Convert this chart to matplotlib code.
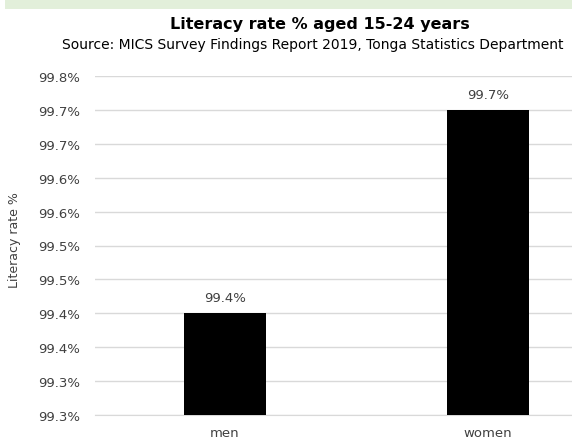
import matplotlib.pyplot as plt
from matplotlib.patches import Rectangle

groups = ['men', 'women']
literacy = [99.4, 99.7]
value_labels = ['99.4%', '99.7%']

ytick_vals = [99.25, 99.30, 99.35, 99.40, 99.45, 99.50, 99.55, 99.60, 99.65, 99.70, 99.75]
ytick_labels = ['99.3%', '99.3%', '99.4%', '99.4%', '99.5%', '99.5%',
                '99.6%', '99.6%', '99.7%', '99.7%', '99.8%']

plt.rcParams['font.family'] = ['DejaVu Sans']

W, H = 572, 439
fig = plt.figure(figsize=(W / 100, H / 100), dpi=100)

# light green header strip along the top edge
fig.patches.append(Rectangle((5 / W, 1 - 10 / H), 1, 10 / H, transform=fig.transFigure,
                             facecolor='#e2efda', edgecolor='none', zorder=0))

ax = fig.add_axes([95 / W, 1 - 416 / H, (572 - 95) / W, (416 - 77) / H])
x = range(len(groups))
ax.bar(x, literacy, width=0.31, color='black', zorder=3)

ax.set_ylim(99.25, 99.75)
ax.set_xlim(-0.494, 1.319)
ax.set_yticks(ytick_vals)
ax.set_yticklabels(ytick_labels, fontsize=9.5, color='#404040')
ax.set_xticks(list(x))
ax.set_xticklabels(groups, fontsize=9.5, color='#404040')
ax.tick_params(axis='both', length=0)
ax.tick_params(axis='y', pad=11)
ax.tick_params(axis='x', pad=8)

ax.grid(axis='y', color='#d9d9d9', linewidth=1, zorder=0)
for side in ['top', 'right', 'left']:
    ax.spines[side].set_visible(False)
ax.spines['bottom'].set_color('#d9d9d9')

for xi, v, lab in zip(x, literacy, value_labels):
    ax.annotate(lab, (xi, v), xytext=(0, 6.5), textcoords='offset points',
                ha='center', va='bottom', fontsize=9.5, color='#404040')

ax.set_ylabel('Literacy rate %', fontsize=9, color='#404040')
ax.yaxis.set_label_coords(-0.155, 0.519)

fig.text(320 / W, 1 - 24 / H, 'Literacy rate % aged 15-24 years', ha='center',
         va='center', fontsize=11.5, fontweight='bold')
fig.text(313 / W, 1 - 45 / H,
         'Source: MICS Survey Findings Report 2019, Tonga Statistics Department',
         ha='center', va='center', fontsize=10)

fig.savefig('out.png', dpi=100)
